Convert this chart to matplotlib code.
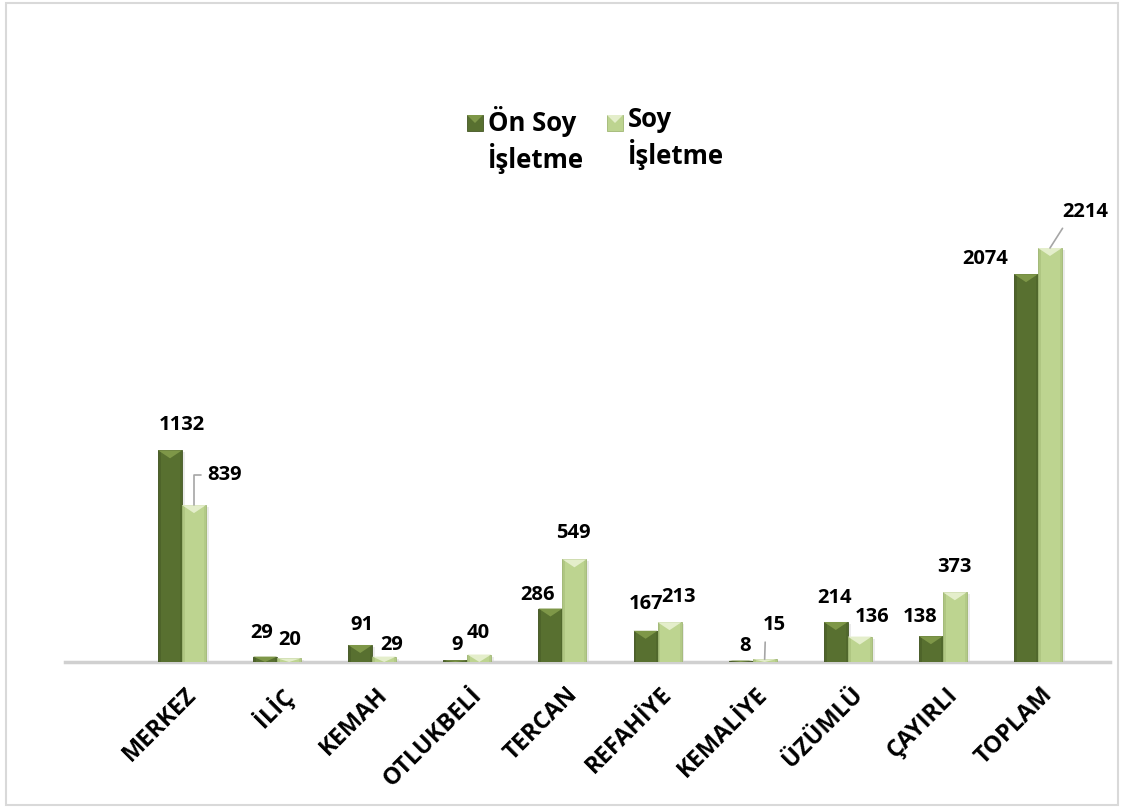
import matplotlib.pyplot as plt
import matplotlib.transforms as mtransforms
from matplotlib.patches import Polygon, Rectangle
import numpy as np

plt.rcParams['font.family'] = ['Open Sans', 'DejaVu Sans']

# Ilçelere göre işletme sayıları
ilceler = ['MERKEZ', 'İLİÇ', 'KEMAH', 'OTLUKBELİ', 'TERCAN',
           'REFAHİYE', 'KEMALİYE', 'ÜZÜMLÜ', 'ÇAYIRLI', 'TOPLAM']
on_soy = [1132, 29, 91, 9, 286, 167, 8, 214, 138, 2074]
soy = [839, 20, 29, 40, 549, 213, 15, 136, 373, 2214]
seri_adlari = ['Ön Soy\nİşletme', 'Soy\nİşletme']

# label offsets in pixels (dx, dy upward)
on_soy_off = [(12, 25), (-3, 24), (2, 20), (2, 15), (-13, 14),
              (0, 27), (4, 15), (-1, 24), (-11, 19), (-41, 15)]
soy_off = [(31, 30), (1, 18), (8, 12), (-1, 22), (-1, 26),
           (9, 25), (10, 34), (12, 20), (0, 25), (35, 36)]
leader = {0: 'angle', 6: 'line', 9: 'line'}

dark, dark_hi, dark_edge = '#587030', '#7e9748', '#435624'
light, light_hi, light_edge = '#bdd490', '#e4eecb', '#9fb673'

fig = plt.figure(figsize=(11.25, 8.09), dpi=100)
ax = fig.add_axes([65 / 1125, 1 - 662 / 809, 1045 / 1125, 562 / 809])

x = np.arange(len(ilceler))
w = 0.252
ymax = 562 / ((662 - 248) / 2214)
ax.set_xlim(-(182 - 65) / 95.1, 9 + (1110 - 1038) / 95.1)
ax.set_ylim(0, ymax)

tri_h = 8 / (562 / ymax)  # 8 px bevel in data units
for vals, off, fc, hi, ec in [(on_soy, -w / 2, dark, dark_hi, dark_edge),
                              (soy, w / 2, light, light_hi, light_edge)]:
    bars = ax.bar(x + off, vals, width=w, color=fc, edgecolor=ec,
                  linewidth=0.6, zorder=3)
    for b, v in zip(bars, vals):
        x0, x1 = b.get_x(), b.get_x() + b.get_width()
        # side shading
        ax.add_patch(Rectangle((x0, 0), w * 0.12, v, color=ec, alpha=0.45,
                               lw=0, zorder=4))
        ax.add_patch(Rectangle((x1 - w * 0.08, 0), w * 0.08, v, color=ec,
                               alpha=0.3, lw=0, zorder=4))
        h = min(tri_h, v)
        ax.add_patch(Polygon([(x0, v), (x1, v), ((x0 + x1) / 2, v - h)],
                             closed=True, color=hi, lw=0, zorder=5))
        # faint shadow under bar
        ax.add_patch(Rectangle((x0 + 0.01, 0), w, v, color='#000000',
                               alpha=0.08, lw=0, zorder=2,
                               transform=ax.transData + mtransforms.ScaledTranslation(
                                   2 / 100, -2 / 100, fig.dpi_scale_trans)))

lbl = dict(ha='center', va='center', fontsize=14.5, fontweight='bold',
           color='black', textcoords='offset pixels', zorder=6)
for i, v in enumerate(on_soy):
    dx, dy = on_soy_off[i]
    ax.annotate(str(v), xy=(x[i] - w / 2, v), xytext=(dx, dy), **lbl)
for i, v in enumerate(soy):
    dx, dy = soy_off[i]
    arrow = None
    if leader.get(i) == 'angle':
        arrow = dict(arrowstyle='-', color='#a6a6a6', lw=1.2, relpos=(0, 0.5),
                     connectionstyle='angle,angleA=0,angleB=90,rad=0',
                     shrinkA=3, shrinkB=0)
    elif leader.get(i) == 'line':
        arrow = dict(arrowstyle='-', color='#a6a6a6', lw=1.2, relpos=(0.1, 0),
                     shrinkA=3, shrinkB=0)
    ax.annotate(str(v), xy=(x[i] + w / 2, v), xytext=(dx, dy),
                arrowprops=arrow, **lbl)

for s in ['top', 'right', 'left']:
    ax.spines[s].set_visible(False)
ax.spines['bottom'].set_color('#d0d0d0')
ax.spines['bottom'].set_linewidth(2.5)
ax.set_yticks([])
ax.set_xticks(x)
ax.set_xticklabels(ilceler, rotation=45, ha='right', va='top',
                   rotation_mode='anchor', fontsize=17, fontweight='bold')
ax.tick_params(axis='x', length=0, pad=15)
shift = mtransforms.ScaledTranslation(3 / 100, 0, fig.dpi_scale_trans)
for t in ax.get_xticklabels():
    t.set_transform(t.get_transform() + shift)

# legend drawn in figure pixels
for (px, fc, hi, ec), name in zip([(467, dark, dark_hi, dark_edge),
                                   (607, light, light_hi, light_edge)],
                                  seri_adlari):
    x0, y0, s = px / 1125, 1 - 131 / 809, 16
    fig.patches.append(Rectangle((x0, y0), s / 1125, s / 809, facecolor=fc,
                                 edgecolor=ec, lw=0.6, transform=fig.transFigure))
    fig.patches.append(Polygon([(x0, y0 + s / 809), (x0 + s / 1125, y0 + s / 809),
                                (x0 + s / 2250, y0 + s / 1618)], closed=True,
                               color=hi, lw=0, transform=fig.transFigure))
    fig.text((px + 21) / 1125, 1 - 106 / 809, name, ha='left', va='top',
             fontsize=18.5, fontweight='bold', linespacing=1.25)

fig.patches.append(Rectangle((6 / 1125, 4 / 809), 1112 / 1125, 802 / 809,
                             fill=False, edgecolor='#d9d9d9', lw=1.5,
                             transform=fig.transFigure))

fig.savefig('out.png', dpi=100)
